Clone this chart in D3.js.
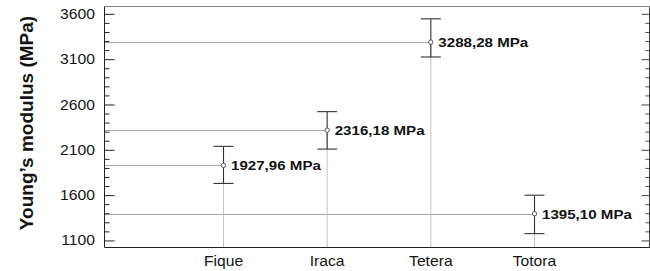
<!DOCTYPE html>
<html>
<head>
<meta charset="utf-8">
<script src="https://cdn.jsdelivr.net/npm/d3@7"></script>
<style>
  html, body { margin: 0; padding: 0; background: #fff; }
  svg { display: block; }
  text { font-family: "Liberation Sans", Arial, sans-serif; fill: #141414; }
</style>
</head>
<body>
<svg id="chart" width="650" height="271"></svg>
<script>
// ---- data ----
const categories = ["Fique", "Iraca", "Tetera", "Totora"];
const means = [1927.96, 2316.18, 3288.28, 1395.10];
const lower = [1729, 2108, 3124, 1175];
const upper = [2138, 2521, 3545, 1599];
const meanLabels = ["1927,96 MPa", "2316,18 MPa", "3288,28 MPa", "1395,10 MPa"];
const yTicks = [1100, 1600, 2100, 2600, 3100, 3600];
const yMinorTicks = d3.range(1100, 3601, 100);
const yTitle = "Young\u2019s modulus (MPa)";

// ---- layout ----
const svg = d3.select("#chart");
const pL = 104.5, pR = 649.5, pT = 6.5, pB = 247.5;

const y = d3.scaleLinear().domain([1022, 3681]).range([pB, pT]);
const x = d3.scalePoint().domain(categories).range([223.5, 534.5]);

const sx = 1.12; // horizontal text stretch of the original

// horizontal guide lines from axis to each mean
svg.append("g").selectAll("line").data(categories).join("line")
  .attr("x1", pL).attr("x2", d => x(d))
  .attr("y1", (d, i) => Math.round(y(means[i])) + 0.5)
  .attr("y2", (d, i) => Math.round(y(means[i])) + 0.5)
  .attr("stroke", "#a8a8a8").attr("stroke-width", 1);

// vertical guide lines from mean down to bottom axis
svg.append("g").selectAll("line").data(categories).join("line")
  .attr("x1", d => x(d)).attr("x2", d => x(d))
  .attr("y1", (d, i) => y(means[i])).attr("y2", pB)
  .attr("stroke", "#c4c4c4").attr("stroke-width", 1);

// frame
svg.append("line").attr("x1", pL).attr("x2", pR).attr("y1", pT).attr("y2", pT)
  .attr("stroke", "#8a8a8a");
svg.append("line").attr("x1", pL).attr("x2", pR).attr("y1", pB).attr("y2", pB)
  .attr("stroke", "#222");

// left axis (ticks inward)
const yAxisL = d3.axisRight(y).tickValues(yTicks).tickSize(10).tickFormat("");
const gL = svg.append("g").attr("transform", `translate(${pL},0)`).call(yAxisL);
gL.select(".domain").attr("d", `M0,${pT}V${pB}`).attr("stroke", "#222");
gL.selectAll(".tick line").attr("stroke", "#222");
const yMinorL = d3.axisRight(y).tickValues(yMinorTicks.filter(v => !yTicks.includes(v))).tickSize(5).tickFormat("");
const gLm = svg.append("g").attr("transform", `translate(${pL},0)`).call(yMinorL);
gLm.select(".domain").remove();
gLm.selectAll(".tick line").attr("stroke", "#222");

// right axis (ticks inward)
const yAxisR = d3.axisLeft(y).tickValues(yTicks).tickSize(8).tickFormat("");
const gR = svg.append("g").attr("transform", `translate(${pR},0)`).call(yAxisR);
gR.select(".domain").attr("d", `M0,${pT}V${pB}`).attr("stroke", "#444");
gR.selectAll(".tick line").attr("stroke", "#444");
const yMinorR = d3.axisLeft(y).tickValues(yMinorTicks.filter(v => !yTicks.includes(v))).tickSize(4).tickFormat("");
const gRm = svg.append("g").attr("transform", `translate(${pR},0)`).call(yMinorR);
gRm.select(".domain").remove();
gRm.selectAll(".tick line").attr("stroke", "#444");

// y tick labels
svg.append("g").selectAll("text").data(yTicks).join("text")
  .attr("transform", d => `translate(95,${y(d)}) scale(${sx},1)`)
  .attr("text-anchor", "end").attr("dy", "0.36em")
  .style("font-size", "14px")
  .text(d => d);

// x category labels
svg.append("g").selectAll("text").data(categories).join("text")
  .attr("transform", d => `translate(${x(d)},261) scale(${sx},1)`)
  .attr("text-anchor", "middle").attr("dy", "0.36em")
  .style("font-size", "14px")
  .text(d => d);

// y title
svg.append("text")
  .attr("transform", `translate(26,123) rotate(-90)`)
  .attr("text-anchor", "middle").attr("dy", "0.36em")
  .style("font-size", "19px").style("font-weight", "bold")
  .text(yTitle);

// error bars
const eb = svg.append("g").selectAll("g").data(categories).join("g");
eb.append("line")
  .attr("x1", d => x(d)).attr("x2", d => x(d))
  .attr("y1", (d, i) => y(upper[i])).attr("y2", (d, i) => y(lower[i]))
  .attr("stroke", "#333").attr("stroke-width", 1.1);
eb.append("line")
  .attr("x1", d => x(d) - 10).attr("x2", d => x(d) + 10)
  .attr("y1", (d, i) => y(upper[i])).attr("y2", (d, i) => y(upper[i]))
  .attr("stroke", "#333").attr("stroke-width", 1.1);
eb.append("line")
  .attr("x1", d => x(d) - 10).attr("x2", d => x(d) + 10)
  .attr("y1", (d, i) => y(lower[i])).attr("y2", (d, i) => y(lower[i]))
  .attr("stroke", "#333").attr("stroke-width", 1.1);

// mean markers
svg.append("g").selectAll("circle").data(categories).join("circle")
  .attr("cx", d => x(d)).attr("cy", (d, i) => y(means[i])).attr("r", 2.2)
  .attr("fill", "#fff").attr("stroke", "#555").attr("stroke-width", 1);

// mean labels
svg.append("g").selectAll("text").data(categories).join("text")
  .attr("transform", (d, i) => `translate(${x(d) + 7.5},${y(means[i])}) scale(${sx},1)`)
  .attr("dy", "0.36em")
  .style("font-size", "13.5px").style("font-weight", "bold")
  .text((d, i) => meanLabels[i]);
</script>
</body>
</html>
